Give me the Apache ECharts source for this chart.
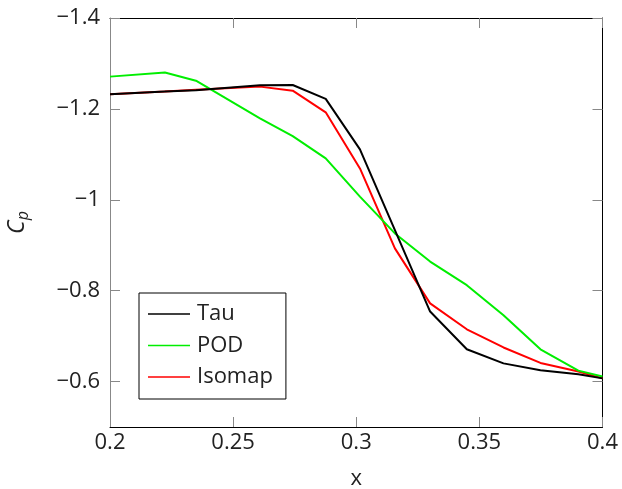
<!DOCTYPE html>
<html>
<head>
<meta charset="utf-8">
<script src="https://cdn.jsdelivr.net/npm/echarts@6/dist/echarts.min.js"></script>
<style>html,body{margin:0;padding:0;background:#fff;}#c{width:622px;height:489px;}</style>
</head>
<body>
<div id="c"></div>
<script>
const xValues = [0.2, 0.2223, 0.2349, 0.2609, 0.2742, 0.2876, 0.3015, 0.3157, 0.33, 0.3449, 0.3598, 0.3748, 0.3902, 0.4];
const tau    = [-1.232, -1.238, -1.241, -1.252, -1.2526, -1.222, -1.111, -0.933, -0.754, -0.671, -0.640, -0.625, -0.616, -0.607];
const pod    = [-1.271, -1.280, -1.262, -1.179, -1.140, -1.091, -1.007, -0.926, -0.864, -0.812, -0.746, -0.671, -0.624, -0.611];
const isomap = [-1.232, -1.238, -1.242, -1.249, -1.240, -1.1925, -1.069, -0.893, -0.772, -0.715, -0.675, -0.641, -0.622, -0.607];
const xTicks = [0.2, 0.25, 0.3, 0.35, 0.4];
const yTicks = [-1.4, -1.2, -1, -0.8, -0.6];
const seriesNames = ['Tau', 'POD', 'Isomap'];
const seriesColors = ['#000000', '#00ee00', '#ff0000'];

const pairs = arr => xValues.map((x, i) => [x, arr[i]]);
const fmt = v => String(+v.toFixed(4)).replace('-', '\u2212');
const FONT = 'Open Sans';
const FS = 22;
const tickStyle = {show: true, inside: true, length: 10, lineStyle: {color: '#888', width: 1}};

const chart = echarts.init(document.getElementById('c'), null, {renderer: 'canvas'});
chart.setOption({
  animation: false,
  backgroundColor: '#fff',
  textStyle: {fontFamily: FONT},
  grid: {left: 110, right: 19.5, top: 18, bottom: 62, containLabel: false, outerBoundsMode: 'none'},
  legend: {
    orient: 'vertical', left: 139, top: 293,
    backgroundColor: '#fff', borderColor: '#000', borderWidth: 1, borderRadius: 0,
    padding: [10, 13, 11, 9],
    icon: 'rect',
    itemWidth: 42, itemHeight: 1.5, itemGap: 9.5,
    textStyle: {fontFamily: FONT, fontSize: FS, lineHeight: 22, color: '#222', padding: [0, 0, 0, 2]},
    data: seriesNames
  },
  xAxis: [{
    type: 'value', min: 0.2, max: 0.4, interval: 0.05, position: 'bottom',
    name: 'x', nameLocation: 'middle', nameGap: 41,
    nameTextStyle: {fontFamily: FONT, fontSize: FS, color: '#222'},
    axisLine: {show: true, lineStyle: {color: '#000', width: 1}},
    axisTick: Object.assign({customValues: xTicks}, tickStyle),
    axisLabel: {customValues: xTicks, formatter: fmt, fontFamily: FONT, fontSize: FS, color: '#222', margin: 5},
    splitLine: {show: false}
  }, {
    type: 'value', min: 0.2, max: 0.4, interval: 0.05, position: 'top',
    axisLine: {show: true, lineStyle: {color: '#000', width: 1}},
    axisTick: Object.assign({customValues: xTicks}, tickStyle),
    axisLabel: {show: false}, splitLine: {show: false}
  }],
  yAxis: [{
    type: 'value', inverse: true, min: -1.4, max: -0.5, interval: 0.2, position: 'left',
    name: '{c|C}{p|p}', nameLocation: 'middle', nameGap: 79, nameRotate: 90,
    nameTextStyle: {
      fontFamily: FONT, color: '#222',
      rich: {
        c: {fontFamily: FONT, fontSize: 23, fontStyle: 'italic', color: '#222'},
        p: {fontFamily: FONT, fontSize: 16, fontStyle: 'italic', color: '#222', verticalAlign: 'bottom', padding: [12, 0, 0, 0]}
      }
    },
    axisLine: {show: true, lineStyle: {color: '#888', width: 1}},
    axisTick: Object.assign({customValues: yTicks}, tickStyle),
    axisLabel: {customValues: yTicks, formatter: fmt, fontFamily: FONT, fontSize: FS, color: '#222', margin: 10},
    splitLine: {show: false}
  }, {
    type: 'value', inverse: true, min: -1.4, max: -0.5, interval: 0.2, position: 'right',
    axisLine: {show: true, lineStyle: {color: '#000', width: 1}},
    axisTick: Object.assign({customValues: yTicks}, tickStyle),
    axisLabel: {show: false}, splitLine: {show: false}
  }],
  series: [tau, pod, isomap].map((arr, i) => ({
    name: seriesNames[i], type: 'line', data: pairs(arr),
    xAxisIndex: 0, yAxisIndex: 0,
    symbol: 'none', showSymbol: false,
    lineStyle: {color: seriesColors[i], width: 2},
    itemStyle: {color: seriesColors[i]},
    z: 3 - i
  }))
});
</script>
</body>
</html>
